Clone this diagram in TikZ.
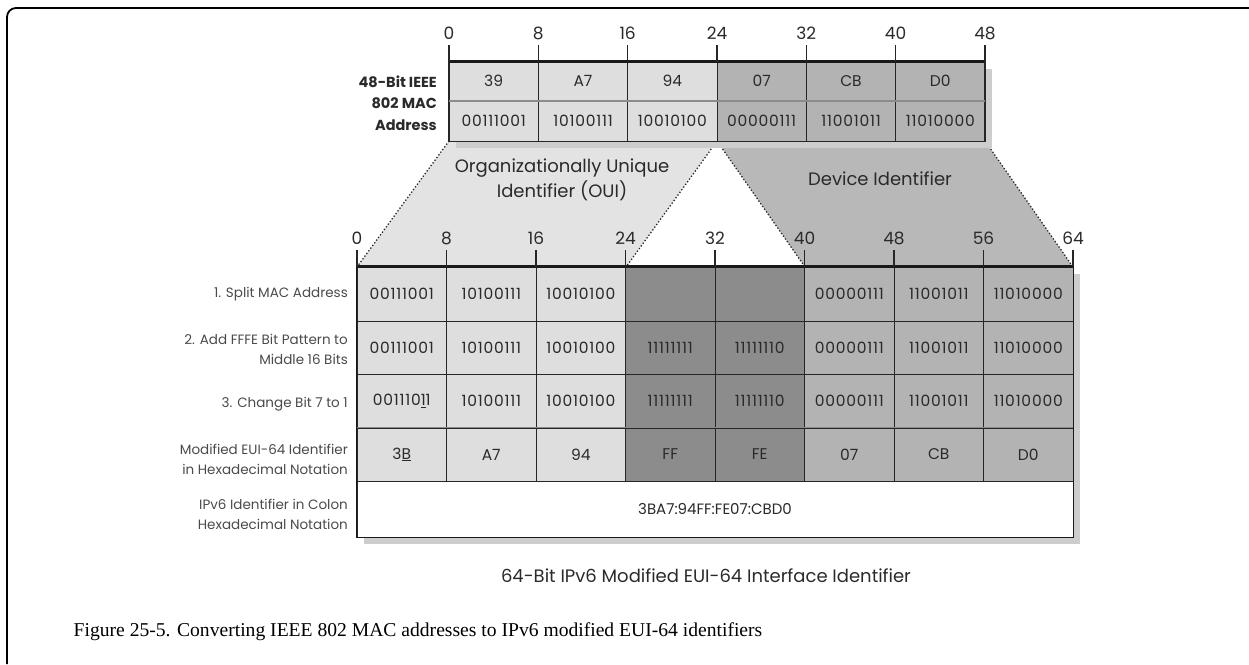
\documentclass[tikz,border=0pt]{standalone}
\usepackage{fontspec}
\setmainfont{Liberation Serif}
\newfontfamily\diag{Poppins}
\newfontfamily\celf[LetterSpace=5]{Poppins}
\definecolor{light}{HTML}{DEDEDE}
\definecolor{mid}{HTML}{B3B3B3}
\definecolor{dark}{HTML}{8C8C8C}
\definecolor{trapl}{HTML}{E3E3E3}
\definecolor{trapm}{HTML}{B8B8B8}
\definecolor{shadowc}{HTML}{CDCDCD}
\definecolor{txt}{HTML}{2A2A2A}
\begin{document}
\begin{tikzpicture}[x=1pt,y=-1pt,
  cell/.style={draw=black!85, line width=1pt, inner sep=0pt, text=txt,
    font=\diag\fontsize{15.5}{17}\selectfont},
  bin/.style={font=\celf\fontsize{15.5}{17}\selectfont},
  topcell/.style={cell, minimum width=89.33pt},
  lowcell/.style={cell, minimum width=89.5pt},
  numlab/.style={font=\diag\fontsize{17}{19}\selectfont, text=txt, inner sep=0pt},
  rowlab/.style={font=\diag\fontsize{13.5}{20}\selectfont, text=txt!85, align=right, anchor=east, inner sep=0pt},
  tick/.style={line width=1.6pt, black!85},
  dotline/.style={dotted, line width=1.3pt, black!85},
  big/.style={font=\diag\fontsize{18}{25}\selectfont, text=txt, align=center, inner sep=0pt}]
\useasboundingbox (0,0) rectangle (1249,664);
% outer frame
\draw[line width=1.8pt, rounded corners=9pt] (7,664) -- (7,8) -- (1249,8);

% coordinates of the split
\coordinate (ta) at (449,141);
\coordinate (tb) at (717,141);
\coordinate (tc) at (985,141);
\coordinate (la) at (357,267);
\coordinate (lb) at (626,267);
\coordinate (lc) at (805,267);
\coordinate (ld) at (1073,267);

% trapezoids
\fill[trapl] (ta) -- (tb) -- (lb) -- (la) -- cycle;
\fill[trapm] (tb) -- (tc) -- (ld) -- (lc) -- cycle;
\draw[dotline] (ta) -- (la);
\draw[dotline] (tb) -- (lb);
\draw[dotline] (tb) -- (lc);
\draw[dotline] (tc) -- (ld);
\node[big] (oui) at (562,180) {Organizationally Unique\\Identifier (OUI)};
\node[big] (dev) at (880,179) {Device Identifier};

% shadows
\fill[shadowc] (456,69) rectangle (992,148);
\fill[shadowc] (364,274) rectangle (1080,544);

% top table
\node[rowlab, font=\diag\bfseries\fontsize{14.5}{21.5}\selectfont, text=txt] (maclab) at (437,103) {48-Bit IEEE\\802 MAC\\Address};
\foreach \t/\c [count=\k from 0] in {39/light,A7/light,94/light,07/mid,CB/mid,D0/mid}{
  \pgfmathsetmacro\cx{449+89.33*(\k+0.5)}
  \node[topcell, fill=\c, minimum height=38pt] (h\k) at (\cx,81) {\t};
}
\foreach \t/\c [count=\k from 0] in {00111001/light,10100111/light,10010100/light,00000111/mid,11001011/mid,11010000/mid}{
  \pgfmathsetmacro\cx{449+89.33*(\k+0.5)}
  \node[topcell, bin, fill=\c, minimum height=41pt] (b\k) at (\cx,120.5) {\t};
}
\draw[line width=2pt, black!45] (h0.south west) -- (h5.south east);
\draw[line width=1.6pt, black!85] (h0.north west) -- (b0.south west) -- (b5.south east) -- (h5.north east);
\draw[line width=2.4pt, black!90] (h0.north west) -- (h5.north east);
\foreach \n [count=\k from 0] in {0,8,16,24,32,40,48}{
  \pgfmathsetmacro\cx{449+89.33*\k}
  \draw[tick] (\cx,45) -- (\cx,62);
  \node[numlab] (tn\k) at (\cx,33) {\n};
}

% lower table
\foreach \t/\c [count=\k from 0] in {00111001/light,10100111/light,10010100/light,{}/dark,{}/dark,00000111/mid,11001011/mid,11010000/mid}{
  \pgfmathsetmacro\cx{357+89.5*(\k+0.5)}
  \node[lowcell, bin, fill=\c, minimum height=54pt] (ra\k) at (\cx,294) {\t};
}
\foreach \t/\c [count=\k from 0] in {00111001/light,10100111/light,10010100/light,11111111/dark,11111110/dark,00000111/mid,11001011/mid,11010000/mid}{
  \pgfmathsetmacro\cx{357+89.5*(\k+0.5)}
  \node[lowcell, bin, fill=\c, minimum height=53pt] (rb\k) at (\cx,347.5) {\t};
}
\foreach \t/\c [count=\k from 0] in {{001110\underline{1}1}/light,10100111/light,10010100/light,11111111/dark,11111110/dark,00000111/mid,11001011/mid,11010000/mid}{
  \pgfmathsetmacro\cx{357+89.5*(\k+0.5)}
  \node[lowcell, bin, fill=\c, minimum height=54pt] (rc\k) at (\cx,401) {\t};
}
\foreach \t/\c [count=\k from 0] in {{3\underline{B}}/light,A7/light,94/light,FF/dark,FE/dark,07/mid,CB/mid,D0/mid}{
  \pgfmathsetmacro\cx{357+89.5*(\k+0.5)}
  \node[lowcell, fill=\c, minimum height=53pt] (rd\k) at (\cx,454.5) {\t};
}
\node[cell, fill=white, minimum width=716pt, minimum height=56pt, font=\diag\fontsize{15}{17}\selectfont] (re) at (715,509) {3BA7:94FF:FE07:CBD0};
\draw[line width=1.8pt, black!45] (rd0.north west) -- (rd7.north east);
\draw[line width=1.8pt, black!90] (ra0.north west) -- (re.south west) -- (re.south east) -- (ra7.north east);
\draw[line width=2.4pt, black!90] (ra0.north west) -- (ra7.north east);
\foreach \n [count=\k from 0] in {0,8,16,24,32,40,48,56,64}{
  \pgfmathsetmacro\cx{357+89.5*\k}
  \draw[tick] (\cx,250) -- (\cx,267);
  \node[numlab] (ln\k) at (\cx,238) {\n};
}

% row labels
\node[rowlab] (l1) at (348,294) {1. Split MAC Address};
\node[rowlab] (l2) at (348,349) {2. Add FFFE Bit Pattern to\\Middle 16 Bits};
\node[rowlab] (l3) at (348,404) {3. Change Bit 7 to 1};
\node[rowlab] (l4) at (348,459) {Modified EUI-64 Identifier\\in Hexadecimal Notation};
\node[rowlab] (l5) at (348,514) {IPv6 Identifier in Colon\\Hexadecimal Notation};

% bottom label
\node[numlab, font=\diag\fontsize{18}{20}\selectfont] (iid) at (706,576) {64-Bit IPv6 Modified EUI-64 Interface Identifier};

% caption
\node[font=\fontsize{19.6}{23}\selectfont, inner sep=0pt] (cap) at (418,632) {Figure 25-5. Converting IEEE 802 MAC addresses to IPv6 modified EUI-64 identifiers};
\end{tikzpicture}
\end{document}
